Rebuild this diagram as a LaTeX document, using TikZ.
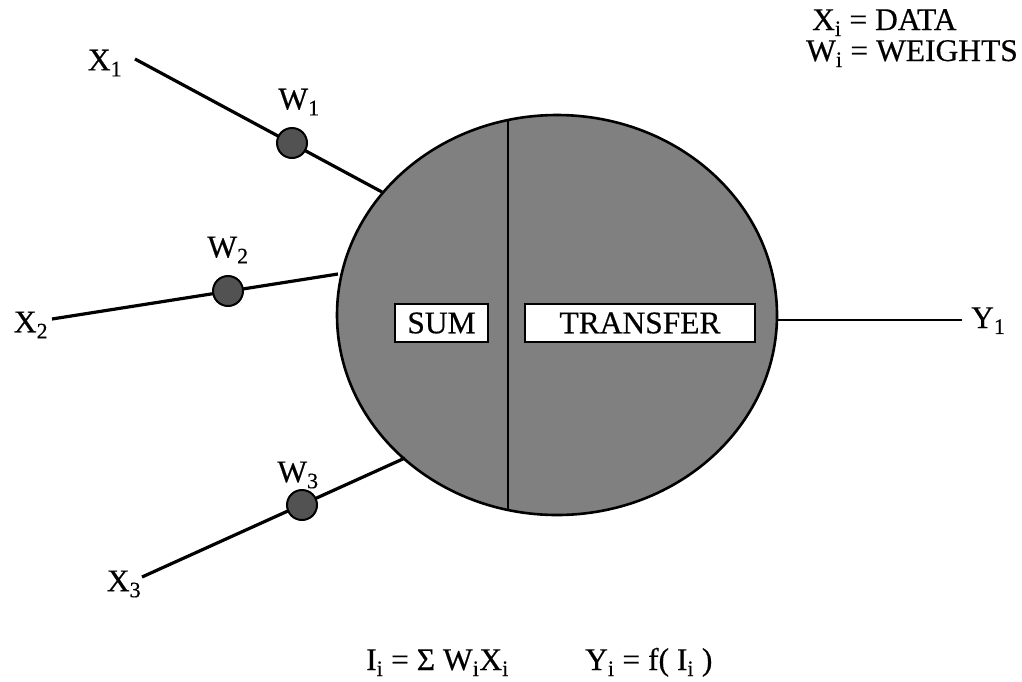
\documentclass[tikz,border=0pt]{standalone}
\usepackage{fontspec}
\setmainfont{Liberation Serif}[UprightFeatures={FakeBold=0.4}]
\usetikzlibrary{shapes.geometric}
\begin{document}
\begin{tikzpicture}[x=1pt,y=-1pt,
  txt/.style={font=\fontsize{31.5}{36}\selectfont, inner sep=0pt},
  wire/.style={line width=3.2pt},
  wdot/.style={circle, draw=black, line width=2pt, fill=black!68, minimum size=30pt, inner sep=0pt},
  tbox/.style={draw=black, line width=2.4pt, fill=white, inner sep=0pt, font=\fontsize{31.5}{36}\selectfont}]
\useasboundingbox (0,0) rectangle (1022,681);
% neuron body
\node[ellipse, draw=black, line width=2.6pt, fill=black!50, minimum width=440pt, minimum height=400pt, inner sep=0pt] (neuron) at (557,315) {};
\coordinate (divtop) at (508,120);
\coordinate (divbot) at (508,510);
\draw[line width=2.6pt] (divtop) -- (divbot);
\node[tbox, minimum width=93pt, minimum height=38pt] (sum) at (441.5,323) {SUM};
\node[tbox, minimum width=230pt, minimum height=38pt] (transfer) at (640,323) {TRANSFER};
% inputs
\coordinate (x1s) at (135,59);
\coordinate (x1e) at (382,192);
\coordinate (x2s) at (52,319);
\coordinate (x2e) at (338,274);
\coordinate (x3s) at (142,577);
\coordinate (x3e) at (405,458);
\draw[wire] (x1s) -- (x1e);
\draw[wire] (x2s) -- (x2e);
\draw[wire] (x3s) -- (x3e);
\node[wdot] (w1) at (292,143) {};
\node[wdot] (w2) at (228,291) {};
\node[wdot] (w3) at (302,505) {};
% output
\coordinate (ys) at (777,320);
\coordinate (ye) at (962,320);
\draw[line width=2.4pt] (ys) -- (ye);
% labels
\node[txt] (lx1) at (105,63) {X\textsubscript{1}};
\node[txt] (lx2) at (31,325) {X\textsubscript{2}};
\node[txt] (lx3) at (124,584) {X\textsubscript{3}};
\node[txt] (lw1) at (299,102) {W\textsubscript{1}};
\node[txt] (lw2) at (228,250) {W\textsubscript{2}};
\node[txt] (lw3) at (298,475) {W\textsubscript{3}};
\node[txt, anchor=base west] (ly1) at (971,328) {Y\textsubscript{1}};
\node[txt, anchor=base west] (legx) at (812,30) {X\textsubscript{i} = DATA};
\node[txt, anchor=base west] (legw) at (806,61) {W\textsubscript{i} = WEIGHTS};
\node[txt, anchor=base west] (eqi) at (366,670) {I\textsubscript{i} = Σ W\textsubscript{i}X\textsubscript{i}};
\node[txt, anchor=base west] (eqy) at (585,670) {Y\textsubscript{i} = f( I\textsubscript{i} )};
\end{tikzpicture}
\end{document}
